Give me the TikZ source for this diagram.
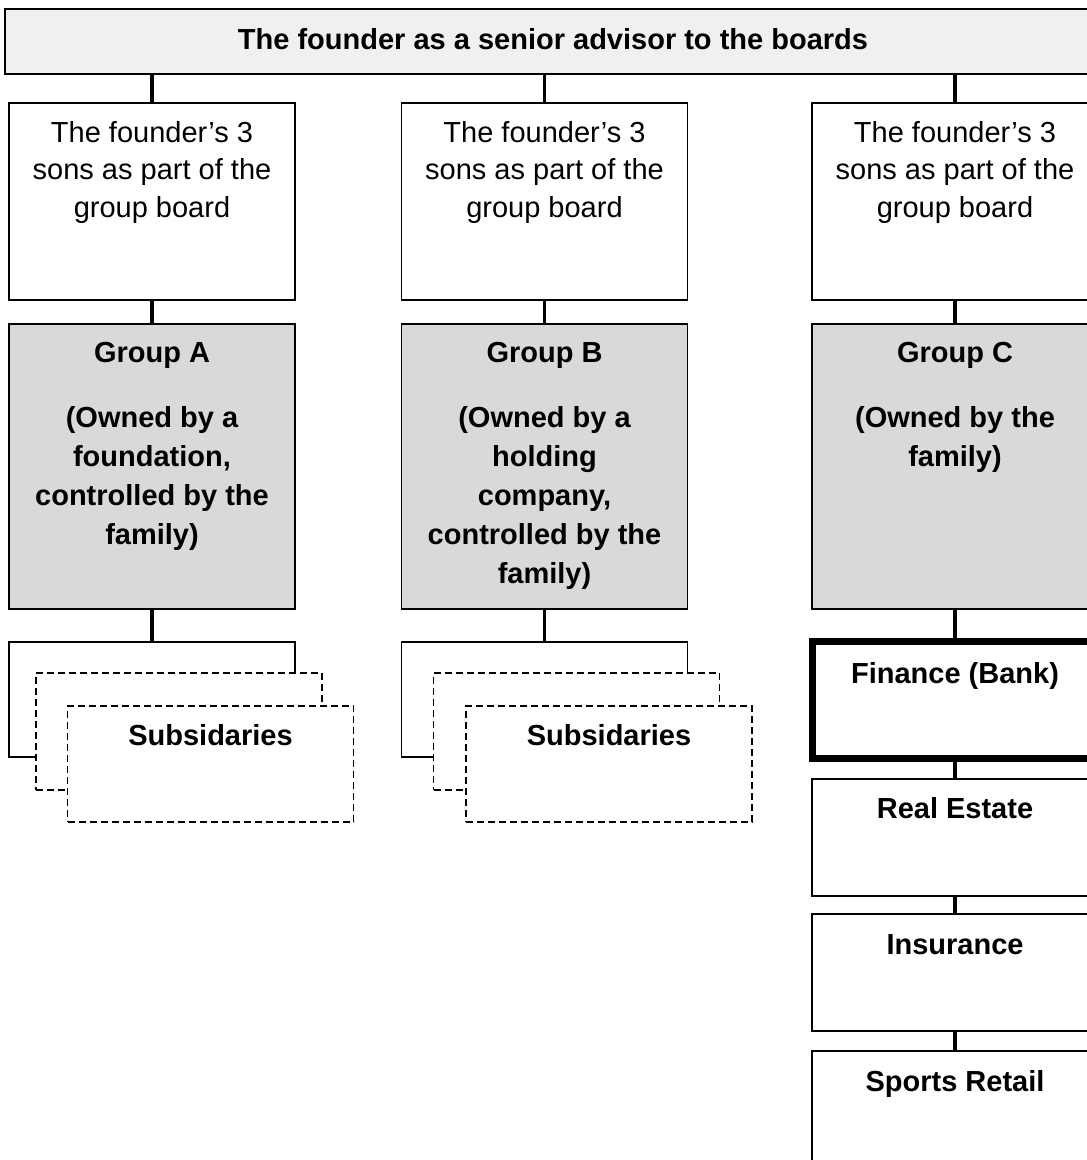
\documentclass[tikz,border=0pt]{standalone}
\usepackage{fontspec}
\setmainfont{Liberation Sans}
\definecolor{barfill}{HTML}{F0F0F0}
\definecolor{groupfill}{HTML}{D9D9D9}
\begin{document}
\begin{tikzpicture}[x=1pt,y=-1pt,
  box/.style={rectangle, draw=black, line width=1.6pt, fill=white, inner sep=0pt},
  sonbox/.style={box, minimum width=286pt, minimum height=197pt},
  groupbox/.style={box, fill=groupfill, minimum width=286pt, minimum height=285pt},
  subbox/.style={box, minimum width=286pt, minimum height=116pt},
  dashbox/.style={subbox, dash pattern=on 7pt off 4pt},
  unitbox/.style={box, minimum width=286pt, minimum height=117pt},
  regtext/.style={font=\fontsize{29}{37.5}\selectfont, align=center, inner sep=0pt, anchor=north},
  boldtext/.style={font=\fontsize{29}{39}\selectfont\bfseries, align=center, inner sep=0pt},
  link/.style={line width=3.5pt}]
\useasboundingbox (0,0) rectangle (1087,1160);
\clip (0,0) rectangle (1087,1160);

% top bar
\node[box, fill=barfill, minimum width=1096pt, minimum height=65pt] (top) at (553,41.5) {};
\node[boldtext, anchor=base] (topT) at (553,49) {The founder as a senior advisor to the boards};

% board boxes of the sons
\node[sonbox] (sonA) at (152,201.5) {};
\node[sonbox] (sonB) at (544.5,201.5) {};
\node[sonbox] (sonC) at (955,201.5) {};
\foreach \n/\x in {sonA/152, sonB/544.5, sonC/955}
  \node[regtext] (\n T) at (\x,115.75) {\strut The founder’s 3\\sons as part of the\\group board};

% the three groups
\node[groupbox] (grpA) at (152,466.5) {};
\node[groupbox] (grpB) at (544.5,466.5) {};
\node[groupbox] (grpC) at (955,466.5) {};
\node[boldtext, anchor=north] (grpAT) at (152,334.7)
  {\strut Group A\\[26pt](Owned by a\\foundation,\\controlled by the\\family)};
\node[boldtext, anchor=north] (grpBT) at (544.5,334.7)
  {\strut Group B\\[26pt](Owned by a\\holding\\company,\\controlled by the\\family)};
\node[boldtext, anchor=north] (grpCT) at (955,334.7)
  {\strut Group C\\[26pt](Owned by the\\family)};

% stacked subsidiaries, group A
\node[subbox, minimum height=115pt] (subA1) at (152,699.5) {};
\node[dashbox, minimum height=117pt] (subA2) at (179,731.5) {};
\node[dashbox] (subA3) at (210.5,764) {};
\node[boldtext, anchor=base] (subAT) at (210.5,745) {Subsidaries};

% stacked subsidiaries, group B
\node[subbox, minimum height=115pt] (subB1) at (544.5,699.5) {};
\node[dashbox, minimum height=117pt] (subB2) at (576.5,731.5) {};
\node[dashbox] (subB3) at (609,764) {};
\node[boldtext, anchor=base] (subBT) at (609,745) {Subsidaries};

% business units of group C
\node[unitbox, line width=7pt] (fin) at (955,700) {};
\node[unitbox] (real) at (955,837.5) {};
\node[unitbox] (ins) at (955,972.5) {};
\node[unitbox] (sport) at (955,1109.5) {};
\node[boldtext, anchor=base] (finT) at (955,683) {Finance (Bank)};
\node[boldtext, anchor=base] (realT) at (955,818) {Real Estate};
\node[boldtext, anchor=base] (insT) at (955,954) {Insurance};
\node[boldtext, anchor=base] (sportT) at (955,1091) {Sports Retail};

% connectors
\foreach \s in {sonA, sonB, sonC}
  \draw[link] (\s.north) -- (\s.north |- top.south);
\draw[link] (sonA.south) -- (grpA.north);
\draw[link] (sonB.south) -- (grpB.north);
\draw[link] (sonC.south) -- (grpC.north);
\draw[link] (grpA.south) -- (subA1.north);
\draw[link] (grpB.south) -- (subB1.north);
\draw[link] (grpC.south) -- (fin.north);
\draw[link] (fin.south) -- (real.north);
\draw[link] (real.south) -- (ins.north);
\draw[link] (ins.south) -- (sport.north);
\end{tikzpicture}
\end{document}
